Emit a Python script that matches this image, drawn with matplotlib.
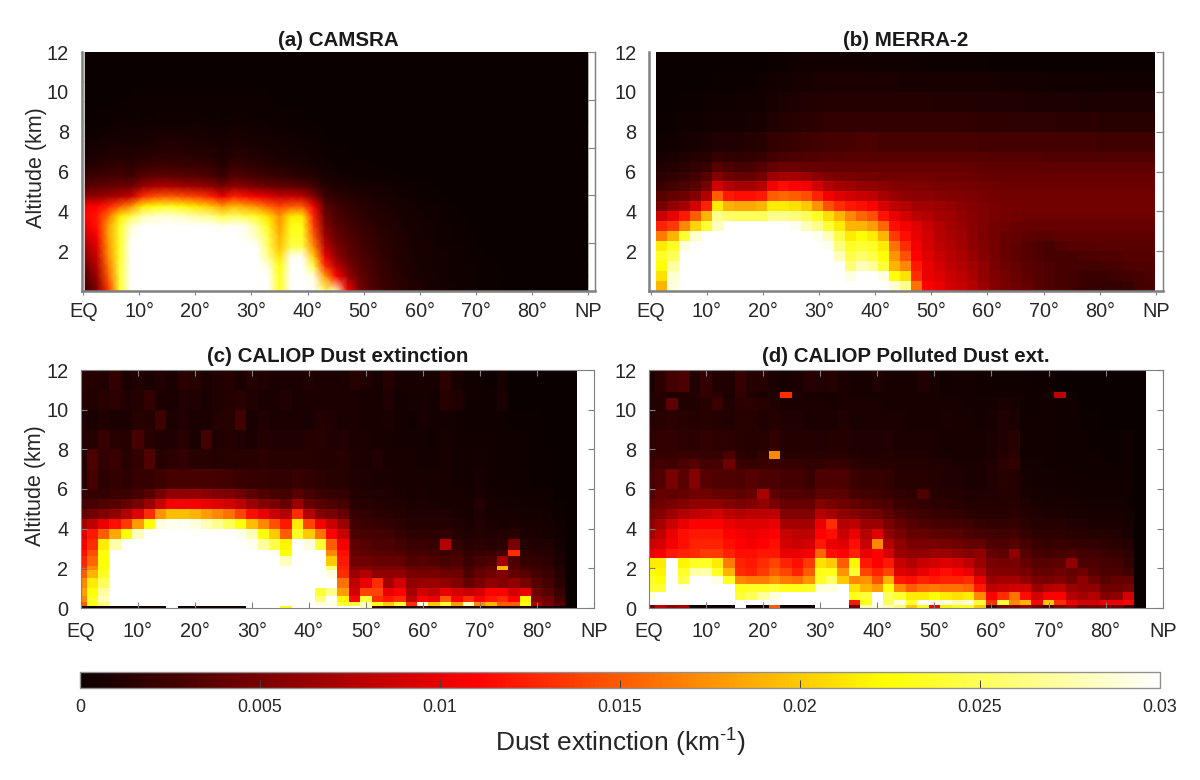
import numpy as np
import matplotlib
matplotlib.use('Agg')
import matplotlib.pyplot as plt

plt.rcParams['font.family'] = ['Liberation Sans', 'DejaVu Sans']
plt.rcParams['mathtext.fontset'] = 'custom'
plt.rcParams['mathtext.rm'] = 'Liberation Sans'
plt.rcParams['mathtext.default'] = 'regular'

lat_ticks = [0, 10, 20, 30, 40, 50, 60, 70, 80, 90]
lat_labels = ['EQ', '10°', '20°', '30°', '40°', '50°', '60°', '70°', '80°', 'NP']
alt_ticks_model = [2, 4, 6, 8, 10, 12]
alt_ticks_caliop = [0, 2, 4, 6, 8, 10, 12]
cbar_ticks = [0, 0.005, 0.01, 0.015, 0.02, 0.025, 0.03]
cbar_labels = ['0', '0.005', '0.01', '0.015', '0.02', '0.025', '0.03']

alt_model = [0, .5, 1, 1.5, 2, 2.5, 3, 3.5, 4, 4.5, 5, 5.5, 6, 6.5, 7, 8, 9, 10, 11, 12]
alt_dust = [0, .1, .3, .6, 1, 1.5, 1.9, 2.1, 2.6, 2.9, 3.5, 4, 4.5, 5, 5.5, 6, 7, 8, 9, 10, 11, 12]
alt_poll = [0, .15, .4, .8, 1.2, 1.6, 2, 2.5, 3, 3.5, 4, 4.5, 5, 5.5, 6, 7, 7.5, 7.9, 9, 10, 10.6, 10.9, 12]

camsra = [
 [25,50,130,235,300, 300,300,300,300,300, 300,300,300,300,300, 300,300,235,300,300, 300,255,280,110,50, 32,24,18,14,10, 8,6,5,4,3, 2,2,1,1,1, 1,0,0,0,0],
 [35,65,150,240,300, 300,300,300,300,300, 300,300,300,300,300, 300,300,230,300,300, 290,180,110,65,42, 30,22,16,12,9, 7,5,4,3,3, 2,2,1,1,1, 1,0,0,0,0],
 [45,75,160,240,300, 300,300,300,300,300, 300,300,300,300,300, 300,290,225,300,300, 245,130,80,52,36, 28,20,15,11,8, 7,5,4,3,3, 2,2,1,1,1, 0,0,0,0,0],
 [60,85,170,235,300, 300,300,300,300,300, 300,300,300,300,300, 300,265,210,295,295, 200,100,60,42,32, 25,18,14,10,8, 6,5,4,3,2, 2,1,1,1,0, 0,0,0,0,0],
 [70,95,175,235,300, 300,300,300,300,300, 300,300,300,300,300, 300,250,195,245,245, 170,80,50,38,28, 22,16,13,10,7, 6,4,3,3,2, 1,1,1,0,0, 0,0,0,0,0],
 [85,105,180,235,295, 300,300,300,300,300, 300,300,300,300,295, 280,245,190,235,235, 150,65,42,32,25, 20,15,12,9,7, 5,4,3,2,2, 1,1,0,0,0, 0,0,0,0,0],
 [100,115,180,235,285, 300,300,300,300,300, 300,300,295,300,295, 270,230,180,230,230, 135,55,36,28,22, 18,14,11,8,6, 5,4,3,2,1, 1,1,0,0,0, 0,0,0,0,0],
 [110,120,160,215,245, 275,285,290,285,280, 270,265,245,255,245, 235,210,175,215,215, 125,45,30,24,18, 14,12,9,7,5, 4,3,2,2,1, 1,0,0,0,0, 0,0,0,0,0],
 [105,110,125,150,175, 215,225,235,230,220, 210,200,180,195,185, 175,155,140,150,150, 105,36,25,20,15, 12,10,8,6,4, 3,3,2,1,1, 1,0,0,0,0, 0,0,0,0,0],
 [60,62,68,75,85, 130,145,150,148,142, 135,125,100,125,115, 105,95,85,85,80, 55,22,16,13,11, 9,7,5,4,3, 2,2,1,1,1, 0,0,0,0,0, 0,0,0,0,0],
 [35,38,40,45,45, 65,72,75,72,68, 65,60,48,62,56, 50,45,40,38,34, 25,14,10,8,7, 6,5,4,3,2, 2,1,1,1,0, 0,0,0,0,0, 0,0,0,0,0],
 [22,24,26,28,24, 34,38,40,38,36, 34,30,20,34,30, 26,24,20,18,16, 12,7,5,4,3, 3,2,2,1,1, 1,1,0,0,0, 0,0,0,0,0, 0,0,0,0,0],
 [13,15,17,19,16, 22,24,25,24,23, 22,20,13,22,20, 17,15,12,11,9, 7,4,3,2,2, 2,1,1,1,1, 0,0,0,0,0, 0,0,0,0,0, 0,0,0,0,0],
 [8,9,11,12,11, 14,15,16,16,15, 14,13,9,14,13, 11,9,8,7,6, 4,3,2,2,1, 1,1,1,0,0, 0,0,0,0,0, 0,0,0,0,0, 0,0,0,0,0],
 [4,5,6,7,7, 8,9,10,10,9, 9,8,7,9,8, 7,6,5,4,3, 3,2,1,1,1, 1,0,0,0,0, 0,0,0,0,0, 0,0,0,0,0, 0,0,0,0,0],
 [1,2,2,3,3, 3,3,4,4,4, 4,3,3,4,4, 3,3,2,2,2, 1,1,1,0,0, 0,0,0,0,0, 0,0,0,0,0, 0,0,0,0,0, 0,0,0,0,0],
 [1,1,1,1,2, 2,2,2,2,2, 2,2,2,2,2, 2,2,1,1,1, 1,0,0,0,0, 0,0,0,0,0, 0,0,0,0,0, 0,0,0,0,0, 0,0,0,0,0],
 [0,0,1,1,1, 1,1,1,1,1, 1,1,1,1,1, 1,1,1,1,0, 0,0,0,0,0, 0,0,0,0,0, 0,0,0,0,0, 0,0,0,0,0, 0,0,0,0,0],
 [0,0,0,0,0, 0,0,0,0,0, 1,1,1,1,1, 0,0,0,0,0, 0,0,0,0,0, 0,0,0,0,0, 0,0,0,0,0, 0,0,0,0,0, 0,0,0,0,0],
]

merra = [
 [190,290,300,300,300, 300,300,300,300,300, 300,300,300,300,300, 300,300,300,300,300, 300,285,265,160,110, 100,90,85,75,65, 55,50,45,40,33, 30,28,25,22,20, 18,18,20,25,28],
 [210,285,300,300,300, 300,300,300,300,300, 300,300,300,300,300, 300,300,290,300,300, 290,225,210,130,100, 95,85,80,72,62, 52,48,43,38,33, 30,28,25,22,22, 22,24,26,28,30],
 [225,270,300,300,300, 300,300,300,300,300, 300,300,300,300,300, 300,300,260,280,270, 240,190,170,120,100, 90,82,76,68,60, 50,45,40,36,33, 30,28,27,26,26, 26,28,30,32,32],
 [235,250,300,300,300, 300,300,300,300,300, 300,300,300,300,300, 300,280,245,255,245, 225,175,145,110,95, 85,78,72,64,56, 48,43,38,34,30, 27,27,28,30,30, 32,32,34,35,35],
 [215,235,290,300,300, 300,300,300,300,300, 300,300,300,300,300, 295,260,235,240,235, 215,160,130,105,92, 80,74,68,60,54, 48,42,38,34,30, 28,32,34,34,35, 36,36,36,36,36],
 [165,190,240,285,300, 300,300,300,300,300, 300,300,300,300,295, 280,245,215,225,215, 190,135,115,100,90, 78,72,66,58,52, 47,43,40,38,36, 36,38,38,38,38, 38,38,38,38,38],
 [125,135,170,205,240, 280,300,300,300,300, 300,300,295,280,265, 240,215,190,190,180, 155,115,105,95,85, 76,70,64,57,52, 48,45,43,42,42, 42,42,42,42,42, 42,42,42,42,42],
 [85,100,120,150,190, 265,255,250,250,250, 265,265,260,250,235, 210,190,170,155,145, 118,100,90,80,75, 70,66,62,56,52, 50,48,46,45,45, 45,45,45,45,45, 45,45,45,45,45],
 [50,60,70,90,125, 215,190,185,185,190, 215,215,210,200,175, 145,130,120,115,110, 92,80,75,70,68, 65,62,58,55,52, 50,48,47,46,46, 46,46,46,46,46, 46,46,46,46,46],
 [35,40,45,55,75, 150,120,115,115,120, 150,155,150,145,125, 105,95,90,85,82, 72,65,60,58,58, 56,55,54,52,50, 48,46,46,46,46, 46,46,46,46,46, 46,46,46,46,46],
 [22,26,30,36,48, 90,75,70,70,75, 105,115,110,105,90, 75,70,66,62,62, 58,55,52,52,52, 50,50,50,48,46, 45,44,44,44,44, 44,44,44,44,44, 44,44,44,44,44],
 [15,18,22,26,34, 55,45,42,42,48, 65,70,70,65,58, 52,50,50,48,48, 46,46,46,46,46, 45,45,45,44,43, 42,42,42,42,42, 42,42,42,42,42, 42,42,42,42,42],
 [10,12,15,18,22, 34,30,28,29,33, 40,44,44,42,42, 40,40,40,40,40, 40,40,40,40,40, 40,40,40,40,38, 38,38,38,38,38, 38,38,38,38,38, 38,38,38,38,38],
 [6,8,10,12,14, 20,18,17,18,20, 26,29,30,32,32, 33,33,34,34,34, 34,34,34,34,34, 34,34,34,34,34, 33,33,33,33,33, 32,32,32,32,32, 32,32,32,32,32],
 [3,4,5,6,8, 10,10,10,12,14, 18,20,22,24,25, 28,28,28,30,30, 28,28,28,28,28, 28,28,28,28,26, 26,26,26,26,26, 26,26,26,26,26, 24,24,24,24,24],
 [2,2,3,3,4, 5,5,5,6,7, 10,12,14,15,16, 18,18,18,18,18, 18,18,18,18,18, 18,18,18,17,17, 17,16,16,16,16, 16,15,15,15,15, 14,14,14,14,14],
 [1,1,2,2,2, 3,3,3,4,4, 6,8,9,10,11, 12,12,12,12,12, 12,12,12,12,12, 11,11,11,11,10, 10,10,10,9,9, 9,9,9,8,8, 8,8,8,8,8],
 [1,1,1,1,1, 2,2,2,2,3, 4,5,6,7,8, 8,8,8,8,8, 8,8,7,7,7, 7,7,6,6,6, 6,5,5,5,5, 4,4,4,4,4, 3,3,3,3,3],
 [0,0,1,1,1, 1,1,1,1,1, 2,2,3,4,4, 4,4,4,4,3, 3,3,3,3,2, 2,2,2,2,2, 1,1,1,1,1, 1,1,0,0,0, 0,0,0,0,0],
]

caliop_dust = [
 [0,0,0,0,0, 0,0,0,300,0, 0,0,0,0,0, 300,300,300,230,300, 300,300,300,300,300, 280,20,10,10,10, 15,10,15,10,10, 10,10,10,10,10, 5,5,0,0],
 [150,230,260,300,300, 300,300,300,300,300, 300,300,300,300,300, 300,300,300,300,300, 300,290,290,240,240, 280,230,200,240,130, 290,200,240,180,280, 170,190,150,150,230, 70,50,35,0],
 [170,235,280,300,300, 300,300,300,300,300, 300,300,300,300,300, 300,300,300,300,300, 300,260,300,220,110, 240,130,120,130,80, 110,100,150,110,130, 110,120,130,110,220, 55,45,28,0],
 [180,225,270,300,300, 300,300,300,300,300, 300,300,300,300,300, 300,300,300,300,300, 300,240,265,180,90, 140,140,100,110,70, 90,80,100,90,85, 90,110,110,90,100, 45,35,22,0],
 [170,215,250,300,300, 300,300,300,300,300, 300,300,300,300,300, 300,300,300,300,300, 300,300,300,160,80, 100,130,70,90,60, 65,65,60,55,40, 50,60,55,60,50, 35,28,15,0],
 [150,190,235,300,300, 300,300,300,300,300, 300,300,300,300,300, 300,300,300,300,300, 300,300,290,130,65, 75,60,60,60,50, 50,50,45,45,30, 40,45,55,40,35, 28,22,12,0],
 [130,170,225,300,300, 300,300,300,300,300, 300,300,300,300,300, 300,300,300,300,300, 300,300,260,125,55, 55,50,50,50,40, 42,42,35,38,25, 35,40,190,35,25, 22,18,10,0],
 [125,155,225,300,300, 300,300,300,300,300, 300,300,300,300,300, 300,300,300,280,300, 300,300,200,120,45, 45,42,40,40,32, 35,30,28,30,22, 28,30,70,30,20, 18,15,8,0],
 [115,145,225,300,300, 300,300,300,300,300, 300,300,300,300,300, 300,300,295,225,300, 300,300,170,115,40, 38,36,35,32,26, 28,25,22,25,18, 20,22,25,130,16, 14,12,6,0],
 [105,130,215,275,300, 300,300,300,300,300, 300,300,300,300,300, 295,270,245,220,300, 290,240,150,105,38, 34,30,30,25,22, 22,20,75,18,14, 15,14,15,50,12, 10,10,5,0],
 [95,120,150,185,225, 280,300,300,300,300, 300,300,300,300,295, 280,225,200,150,235, 200,160,110,85,30, 28,26,24,20,16, 16,15,18,12,10, 12,10,10,14,8, 8,7,4,0],
 [70,80,100,115,135, 180,225,290,295,295, 290,280,265,250,225, 195,170,145,120,215, 140,105,85,65,25, 22,20,18,15,12, 12,12,12,10,8, 10,8,7,8,6, 6,5,3,0],
 [40,45,55,60,75, 95,130,175,195,195, 190,180,170,160,140, 115,100,85,75,130, 75,55,50,40,20, 18,16,14,12,10, 10,10,10,8,7, 10,7,6,6,5, 5,4,2,0],
 [25,28,32,35,40, 50,65,85,105,105, 105,100,95,90,80, 65,55,50,42,65, 42,35,30,28,15, 14,12,11,10,8, 9,8,7,7,6, 12,6,5,5,4, 4,3,2,0],
 [18,20,18,22,22, 28,35,48,60,62, 62,58,55,52,46, 38,32,28,25,34, 27,22,20,18,12, 10,10,9,8,7, 8,7,6,6,5, 8,5,4,4,3, 3,3,1,0],
 [14,28,16,18,16, 20,20,24,27,28, 28,27,26,25,22, 20,19,18,18,22, 18,16,14,14,10, 9,8,8,7,6, 7,6,6,5,4, 6,4,4,3,3, 2,2,1,0],
 [12,30,18,22,14, 18,32,12,16,18, 14,14,12,14,14, 14,16,14,14,14, 14,12,12,14,9, 8,10,7,6,6, 5,5,6,5,4, 5,4,3,3,2, 2,2,1,0],
 [10,12,20,14,12, 28,14,10,10,14, 8,26,10,12,10, 8,12,10,10,10, 12,14,10,10,8, 8,6,6,5,5, 5,4,6,4,4, 4,3,3,3,2, 2,1,1,0],
 [10,8,10,8,8, 14,12,24,9,10, 8,8,12,14,26, 8,10,8,8,8, 8,12,10,8,8, 7,6,8,5,4, 6,5,5,4,3, 3,3,3,2,2, 2,1,1,0],
 [12,10,14,16,10, 12,18,8,8,10, 10,8,10,12,14, 10,8,8,10,8, 8,8,8,8,8, 6,6,10,5,6, 6,5,14,10,4, 3,3,8,1,1, 1,1,1,0],
 [14,12,10,18,8, 10,8,10,8,16, 14,8,10,12,8, 12,10,8,8,8, 10,8,8,8,14, 10,6,12,6,6, 6,6,16,6,3, 4,2,6,1,0, 0,0,0,0],
]

caliop_poll = [
 [40,80,60,70,0, 0,0,0,300,0, 0,150,0,0,0, 300,300,300,40,280, 290,280,260,200,230, 100,220,230,230,200, 20,50,50,60,40, 30,50,60,40,45, 50,40,20,0],
 [300,300,300,300,300, 300,300,300,300,300, 300,300,300,300,300, 300,300,300,120,230, 300,250,290,240,300, 290,290,280,290,240, 130,240,170,190,110, 200,130,100,90,90, 100,100,110,0],
 [290,300,300,300,300, 300,300,300,240,250, 270,290,300,300,300, 300,300,300,230,240, 300,250,240,215,215, 225,215,210,215,170, 110,130,160,115,90, 110,110,75,70,75, 55,60,90,0],
 [240,240,300,295,300, 300,300,300,230,235, 235,240,230,230,235, 290,290,300,210,190, 180,225,170,150,160, 165,160,160,155,120, 80,85,90,90,65, 75,80,65,60,60, 45,45,50,0],
 [235,225,300,245,300, 300,290,235,170,165, 165,175,165,160,175, 235,255,200,170,175, 145,190,120,115,125, 120,125,125,130,100, 65,70,70,60,50, 50,55,45,60,45, 35,40,40,0],
 [225,220,300,235,275, 275,235,190,130,125, 135,150,140,125,150, 230,230,175,240,140, 125,140,95,90,100, 110,115,110,100,75, 55,55,55,50,40, 40,45,40,45,35, 30,30,25,0],
 [215,215,300,220,235, 235,215,165,125,120, 130,140,125,115,135, 210,200,150,220,120, 110,120,85,75,85, 90,95,90,80,65, 50,48,50,42,35, 35,38,60,30,30, 28,25,20,0],
 [100,105,120,125,130, 135,135,125,115,115, 120,120,100,100,105, 155,115,110,125,100, 110,90,65,60,60, 65,65,60,55,60, 40,38,60,35,28, 25,28,30,25,25, 22,20,15,0],
 [85,90,105,115,125, 125,125,115,110,105, 110,115,90,85,90, 120,100,95,115,85, 170,75,60,50,50, 50,48,45,42,40, 32,30,35,28,22, 20,22,20,18,18, 16,14,12,0],
 [70,80,100,115,120, 120,120,110,105,100, 105,110,85,80,80, 110,115,85,100,75, 95,60,50,42,40, 38,36,35,30,28, 25,24,26,20,16, 16,16,14,14,12, 12,10,8,0],
 [60,70,85,100,110, 110,110,100,95,95, 95,100,70,70,70, 100,130,75,80,65, 65,50,40,34,30, 28,28,26,24,20, 18,18,20,15,12, 12,12,10,10,8, 8,8,6,0],
 [50,55,65,75,80, 85,90,80,75,80, 80,80,55,55,55, 75,70,60,55,50, 45,38,30,26,24, 20,20,18,16,14, 14,14,16,12,10, 9,9,8,8,6, 6,6,5,0],
 [40,45,50,55,60, 60,60,55,50,55, 60,50,42,42,42, 55,50,45,40,36, 32,30,22,20,18, 16,16,14,12,12, 12,12,14,10,8, 7,7,6,6,5, 5,5,4,0],
 [32,40,38,42,45, 45,42,40,38,42, 72,38,32,32,30, 38,38,36,28,26, 24,22,18,16,30, 14,12,12,10,10, 10,12,12,8,6, 6,5,5,4,4, 4,4,3,0],
 [28,32,50,36,55, 35,32,32,30,34, 30,30,26,26,22, 30,30,30,22,20, 20,18,14,14,14, 12,10,10,8,8, 10,14,12,6,5, 5,4,4,4,3, 3,3,3,0],
 [22,26,24,30,34, 26,28,45,22,20, 22,22,20,20,18, 18,22,20,16,14, 14,14,12,12,12, 10,10,8,8,8, 10,16,18,5,5, 4,4,3,3,3, 3,2,3,0],
 [18,20,20,22,22, 20,20,30,16,14, 18,170,14,14,14, 14,14,14,12,10, 10,12,10,10,10, 8,8,6,6,6, 8,12,16,4,4, 4,3,3,3,3, 2,2,3,0],
 [16,18,18,16,16, 18,16,16,14,12, 14,18,12,12,12, 10,12,12,10,10, 10,10,8,8,8, 8,6,6,6,6, 8,10,14,4,4, 4,3,3,3,2, 2,2,3,0],
 [12,14,16,14,12, 14,12,10,14,14, 10,12,10,10,8, 8,8,10,8,8, 8,8,8,6,6, 6,8,6,6,5, 6,10,8,3,4, 4,3,3,2,2, 1,1,0,0],
 [10,12,38,10,10, 14,22,10,16,16, 14,10,8,8,8, 8,6,8,8,8, 8,6,6,6,6, 6,6,6,5,5, 5,8,6,3,3, 3,3,4,1,1, 1,1,0,0],
 [10,12,10,10,12, 18,16,8,18,10, 8,10,130,10,6, 6,6,8,6,6, 6,6,6,6,6, 6,5,5,5,4, 4,5,4,3,3, 6,80,3,1,0, 0,0,0,0],
 [8,16,26,30,10, 18,10,10,20,12, 12,8,6,8,12, 10,12,8,6,6, 10,6,6,6,10, 6,4,5,5,4, 4,3,3,3,2, 3,2,1,0,0, 0,0,0,0],
]

# px layout helper: eq/np = tick positions, left/right = axis box
W, H = 1200, 780


def make_axes(left, right, top, bottom, eq, np_px):
    ax = plt.axes([left / W, 1 - bottom / H, (right - left) / W, (bottom - top) / H])
    per_deg = (np_px - eq) / 90
    ax.set_xlim((left - eq) / per_deg, (right - eq) / per_deg)
    ax.set_ylim(0, 12)
    return ax


def style_panel(ax, title, yticks, ylabel, title_pad):
    ax.set_xticks(lat_ticks)
    ax.set_xticklabels(lat_labels)
    ax.set_yticks(yticks)
    ax.tick_params(labelsize=14.3, colors='#808080', labelcolor='#262626', length=4, width=0.8, pad=5)
    ax.set_title(title, fontsize=14.8, fontweight='bold', color='#1a1a1a', pad=title_pad)
    if ylabel:
        ax.set_ylabel('Altitude (km)', fontsize=15.5, color='#262626', labelpad=0, y=0.515)
    for s in ax.spines.values():
        s.set_color('#808080')
        s.set_linewidth(0.8)


fig = plt.figure(figsize=(12, 7.8), dpi=100)

lat_b = np.linspace(1, 89.9, 46)
lat_c = np.array([0] + list(range(1, 88, 2)))

# CAMSRA is smoothed in the original, so shade it between nodes
lat_a_nodes = np.linspace(0.35, 90, 45)
alt_a_nodes = (np.array(alt_model[:-1]) + np.array(alt_model[1:])) / 2
alt_a_nodes[0], alt_a_nodes[-1] = 0, 12

ax_a = make_axes(81.5, 595, 52, 291, 83.3, 587.8)
ax_a.pcolormesh(lat_a_nodes, alt_a_nodes, np.array(camsra, dtype=float) * 1e-4, cmap='hot', vmin=0, vmax=0.03, shading='gouraud')
style_panel(ax_a, '(a) CAMSRA', alt_ticks_model, True, 4)

ax_b = make_axes(649, 1162.7, 52, 291, 650.8, 1155.8)
ax_b.pcolormesh(lat_b, alt_model, np.array(merra, dtype=float) * 1e-4, cmap='hot', vmin=0, vmax=0.03)
style_panel(ax_b, '(b) MERRA-2', alt_ticks_model, False, 4)

ax_c = make_axes(81, 593.7, 370, 608, 81, 593.7)
ax_c.pcolormesh(lat_c, alt_dust, np.array(caliop_dust, dtype=float) * 1e-4, cmap='hot', vmin=0, vmax=0.03)
style_panel(ax_c, '(c) CALIOP Dust extinction', alt_ticks_caliop, True, 6)

ax_d = make_axes(649, 1162.7, 370, 608, 649, 1162.7)
mesh = ax_d.pcolormesh(lat_c, alt_poll, np.array(caliop_poll, dtype=float) * 1e-4, cmap='hot', vmin=0, vmax=0.03)
style_panel(ax_d, '(d) CALIOP Polluted Dust ext.', alt_ticks_caliop, False, 6)

# top row: heavier left/bottom lines, no top line, odd right-hand ticks
for ax, n in ((ax_a, 5), (ax_b, 6)):
    ax.spines['top'].set_visible(False)
    ax.spines['left'].set_linewidth(1.8)
    ax.spines['bottom'].set_linewidth(1.8)
    ax.tick_params(axis='y', length=0, pad=9)
    ax.tick_params(axis='x', direction='out', length=3)
    tw = ax.twinx()
    tw.set_ylim(0, 12)
    tw.set_yticks(np.linspace(0, 12, n + 1))
    tw.tick_params(axis='y', direction='in', length=5, width=0.8, color='#808080', labelright=False)
    for s in tw.spines.values():
        s.set_visible(False)
    tw.spines['right'].set_visible(True)
    tw.spines['right'].set_color('#808080')
    tw.spines['right'].set_linewidth(1.0)

# bottom row: thin box, ticks inward on all sides
for ax in (ax_c, ax_d):
    ax.tick_params(direction='in', top=True, right=True, length=4)
    ax.tick_params(axis='y', pad=9)
    ax.tick_params(axis='x', pad=10)

cax = plt.axes([80 / W, 1 - 688 / H, 1080 / W, 16 / H])
cb = fig.colorbar(mesh, cax=cax, orientation='horizontal')
cb.set_ticks(cbar_ticks)
cb.set_ticklabels(cbar_labels)
cax.tick_params(axis='x', direction='in', length=6, width=0.7, color='#404040', labelsize=12.8, labelcolor='#262626', pad=8)
cb.outline.set_edgecolor('#909090')
cb.outline.set_linewidth(1.0)
fig.text(620 / W, 1 - 743 / H, r'Dust extinction (km$^{\text{-1}}$)', fontsize=19, color='#262626', ha='center', va='center')

fig.savefig('out.png', dpi=100)
